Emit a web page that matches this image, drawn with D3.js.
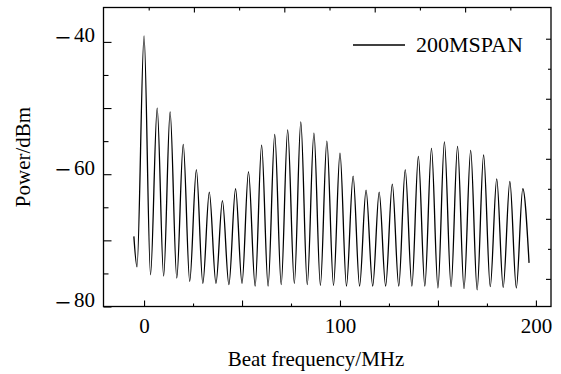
<!DOCTYPE html>
<html><head><meta charset="utf-8">
<script src="https://cdn.jsdelivr.net/npm/d3@7"></script>
<style>html,body{margin:0;padding:0;background:#fff;} svg{display:block;}</style>
</head><body><svg id="c" width="561" height="374"></svg>
<script>
// ---- data ----
const peakFreq = [0, 6.7, 13.3, 20, 26.7, 33.3, 40, 46.7, 53.3, 60, 66.7, 73.3, 80, 86.7, 93.3,
  100, 106.7, 113.3, 120, 126.7, 133.3, 140, 146.7, 153.3, 160, 166.7, 173.3, 180, 186.7, 193.3];
const peakPower = [-39.1, -50.0, -50.6, -55.5, -59.3, -62.7, -64.0, -62.2, -59.6, -55.6, -54.0, -53.3, -52.1, -53.8, -55.0,
  -56.8, -60.3, -62.4, -62.7, -61.5, -59.3, -57.3, -56.1, -55.1, -55.8, -56.4, -57.1, -60.7, -61.1, -62.2];
const troughFreq = [3.3, 10, 16.7, 23.3, 30, 36.7, 43.3, 50, 56.7, 63.3, 70, 76.7, 83.3, 90, 96.7,
  103.3, 110, 116.7, 123.3, 130, 136.7, 143.3, 150, 156.7, 163.3, 170, 176.7, 183.3, 190];
const troughPower = [-75.2, -75.4, -75.7, -76.2, -76.5, -76.5, -76.7, -76.5, -76.9, -76.9, -76.7, -76.5, -76.7, -76.8, -76.8,
  -76.9, -76.9, -76.9, -76.9, -76.9, -76.9, -76.9, -77.2, -77.0, -77.3, -77.5, -77.0, -77.1, -77.2];
const leadFreq = [-5.2, -3.6];
const leadPower = [-69.4, -74.0];
const tailFreq = [196.5];
const tailPower = [-73.4];
const xTickLabels = [0, 100, 200];
const yTickLabels = [-40, -60, -80];
const seriesName = "200MSPAN";
const xTitle = "Beat frequency/MHz";
const yTitle = "Power/dBm";

// ---- build trace ----
const pts = [];
leadFreq.forEach((f, i) => pts.push([f, leadPower[i]]));
peakFreq.forEach((f, i) => { pts.push([f, peakPower[i]]); if (i < troughFreq.length) pts.push([troughFreq[i], troughPower[i]]); });
tailFreq.forEach((f, i) => pts.push([f, tailPower[i]]));

const L = 103.5, R = 551, T = 7.5, B = 306.5;
const svg = d3.select("#c");
const font = "'Liberation Serif','Times New Roman',Times,serif";

const x = d3.scaleLinear().domain([-20.7, 207.7]).range([L, R]);
const y = d3.scaleLinear().domain([-80, -34.8]).range([B, T]);
const xTop = d3.scaleLinear().domain([0, 247.5]).range([L, R]);
const yRight = d3.scaleLinear().domain([-84.6, -34.8]).range([B, T]);

function styleAxis(g) {
  g.select(".domain").remove();
  g.selectAll(".tick line").attr("stroke", "#000").attr("stroke-width", 1.1);
  g.selectAll("text").attr("font-family", font).attr("font-size", 21).attr("fill", "#000");
}

// bottom axis
svg.append("g").attr("transform", `translate(0,${B})`)
  .call(d3.axisBottom(x).tickValues([0, 50, 100, 150, 200]).tickSize(-6).tickPadding(12)
    .tickFormat(d => xTickLabels.includes(d) ? String(d) : ""))
  .call(styleAxis);
svg.append("g").attr("transform", `translate(0,${B})`)
  .call(d3.axisBottom(x).tickValues([25, 75, 125, 175]).tickSize(-3).tickFormat(""))
  .call(styleAxis);
// left axis
const gl = svg.append("g").attr("transform", `translate(${L},0)`)
  .call(d3.axisLeft(y).tickValues([-40, -50, -60, -70, -80]).tickSize(-8).tickPadding(8.5)
    .tickFormat(d => yTickLabels.includes(d) ? "\u2212" + Math.abs(d) : ""))
  .call(styleAxis);
// wide minus sign like the reference
gl.selectAll(".tick text").each(function(d) {
  if (!yTickLabels.includes(d)) return;
  const t = d3.select(this).text("");
  t.append("tspan").attr("font-size", 28).attr("dy", 4.6).text("\u2212");
  t.append("tspan").attr("dx", 3).attr("dy", -4.6).text(String(Math.abs(d)));
});
svg.append("g").attr("transform", `translate(${L},0)`)
  .call(d3.axisLeft(y).tickValues([-45, -55, -65, -75]).tickSize(-5).tickFormat(""))
  .call(styleAxis);
// top axis (mirror frame ticks)
svg.append("g").attr("transform", `translate(0,${T})`)
  .call(d3.axisTop(xTop).tickValues([50, 100, 150, 200]).tickSize(-5).tickFormat(""))
  .call(styleAxis);
svg.append("g").attr("transform", `translate(0,${T})`)
  .call(d3.axisTop(xTop).tickValues([25, 75, 125, 175, 225]).tickSize(-3).tickFormat(""))
  .call(styleAxis);
// right axis
svg.append("g").attr("transform", `translate(${R},0)`)
  .call(d3.axisRight(yRight).tickValues([-40, -50, -60, -70, -80]).tickSize(-5).tickFormat(""))
  .call(styleAxis);
svg.append("g").attr("transform", `translate(${R},0)`)
  .call(d3.axisRight(yRight).tickValues([-45, -55, -65, -75]).tickSize(-3).tickFormat(""))
  .call(styleAxis);

// frame
svg.append("rect").attr("x", L).attr("y", T).attr("width", R - L).attr("height", B - T)
  .attr("fill", "none").attr("stroke", "#000").attr("stroke-width", 1.3);

// trace
const line = d3.line().x(d => x(d[0])).y(d => y(d[1])).curve(d3.curveMonotoneX);
svg.append("path").datum(pts).attr("d", line)
  .attr("fill", "none").attr("stroke", "#000").attr("stroke-width", 1.3).attr("stroke-linejoin", "round");

// legend
svg.append("line").attr("x1", 353).attr("x2", 405).attr("y1", 45).attr("y2", 45)
  .attr("stroke", "#000").attr("stroke-width", 1.3);
svg.append("text").attr("x", 416).attr("y", 52).attr("font-family", font).attr("font-size", 22)
  .text(seriesName);

// titles
svg.append("text").attr("x", 316).attr("y", 366).attr("text-anchor", "middle")
  .attr("font-family", font).attr("font-size", 21).text(xTitle);
svg.append("text").attr("transform", "translate(30,157) rotate(-90)").attr("text-anchor", "middle")
  .attr("font-family", font).attr("font-size", 21).text(yTitle);
</script></body></html>
